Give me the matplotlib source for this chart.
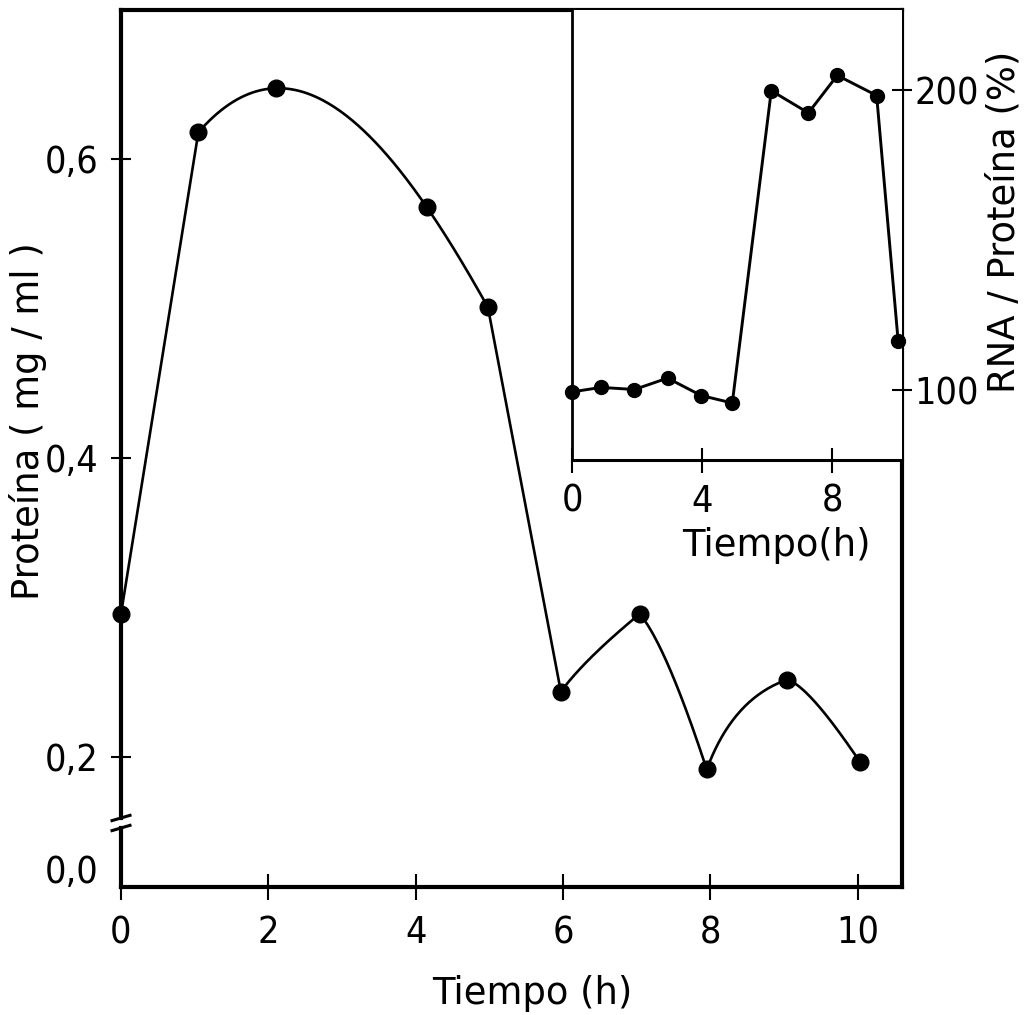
import numpy as np
import matplotlib
matplotlib.use("Agg")
import matplotlib.pyplot as plt
from matplotlib import font_manager as fm

# ---------------- data ----------------
time_h = [0.0, 1.05, 2.11, 4.15, 4.98, 5.97, 7.04, 7.95, 9.04, 10.03]
protein_mg_ml = [0.296, 0.618, 0.6475, 0.568, 0.501, 0.244, 0.296, 0.192, 0.252, 0.197]

inset_time_h = [0.0, 0.89, 1.92, 2.94, 3.97, 4.93, 6.13, 7.27, 8.16, 9.37, 10.03]
rna_protein_pct = [99.4, 100.9, 100.2, 104.0, 98.2, 95.7, 199.8, 192.4, 204.9, 198.2, 116.5]

main_xticks = [0, 2, 4, 6, 8, 10]
main_xticklabels = ["0", "2", "4", "6", "8", "10"]
main_yticks = [0.2, 0.4, 0.6]
main_yticklabels = ["0,2", "0,4", "0,6"]
zero_label = "0,0"
inset_xticks = [0, 4, 8]
inset_xticklabels = ["0", "4", "8"]
inset_yticks = [100, 200]
inset_yticklabels = ["100", "200"]

# ---------------- fonts ----------------
names = {f.name for f in fm.fontManager.ttflist}
if "Liberation Sans Narrow" in names:
    tick_font = dict(family="Liberation Sans Narrow")
else:
    tick_font = dict(family="DejaVu Sans", stretch="condensed")
label_font = dict(family="DejaVu Sans")
TICK_FS = 27
LABEL_FS = 26.6

# ---------------- figure ----------------
W, H = 1029, 1015
fig = plt.figure(figsize=(W / 100, H / 100), dpi=100)

def px_axes(left, right, top, bottom):
    return [left / W, (H - bottom) / H, (right - left) / W, (bottom - top) / H]

ax = fig.add_axes(px_axes(121, 902, 10, 887))
ax.set_xlim(0, 10.6)
ax.set_ylim(0.1134, 0.6998)

# curve through the main points
x = np.asarray(time_h)
y = np.asarray(protein_mg_ml)

def qbez(i, fx, fy, n=60):
    xa, ya, xb, yb = x[i], y[i], x[i + 1], y[i + 1]
    cx, cy = xa + fx * (xb - xa), ya + fy * (yb - ya)
    t = np.linspace(0, 1, n)
    bx = (1 - t) ** 2 * xa + 2 * (1 - t) * t * cx + t ** 2 * xb
    by = (1 - t) ** 2 * ya + 2 * (1 - t) * t * cy + t ** 2 * yb
    return bx, by

segs = []
segs.append((x[0:2], y[0:2]))                       # straight rise
coef = np.polyfit(x[1:5], y[1:5], 3)                # smooth hump 1..4
xs = np.linspace(x[1], x[4], 150)
segs.append((xs, np.polyval(coef, xs)))
segs.append((x[4:6], y[4:6]))                       # straight fall
segs.append(qbez(5, 0.295, 0.41))
segs.append(qbez(6, 0.39, 0.20))
segs.append(qbez(7, 0.325, 0.79))
segs.append(qbez(8, 0.29, 0.065))
cx_all = np.concatenate([s[0] for s in segs])
cy_all = np.concatenate([s[1] for s in segs])
ax.plot(cx_all, cy_all, color="black", lw=1.9, solid_capstyle="round", zorder=3)
ax.plot(x, y, "o", color="black", ms=12, zorder=6, clip_on=False)

# spines
for s in ["top", "right", "bottom"]:
    ax.spines[s].set_linewidth(3)
ax.spines["left"].set_visible(False)
br_hi, br_lo = 0.0787, 0.0673
ax.plot([0, 0], [1, br_hi], transform=ax.transAxes, color="black", lw=3,
        clip_on=False, solid_capstyle="projecting", zorder=5)
ax.plot([0, 0], [br_lo, 0], transform=ax.transAxes, color="black", lw=3,
        clip_on=False, solid_capstyle="projecting", zorder=5)
dx, dy = 0.0115, 0.0030
for yb in (br_hi, br_lo):
    ax.plot([-dx, dx], [yb - dy, yb + dy], transform=ax.transAxes, color="black",
            lw=2.2, clip_on=False, zorder=5)

ax.set_xticks(main_xticks)
ax.set_xticklabels(main_xticklabels, fontsize=TICK_FS, **tick_font)
zero_pos = 0.1254
ax.set_yticks([zero_pos] + main_yticks)
ax.set_yticklabels([zero_label] + main_yticklabels, fontsize=TICK_FS, **tick_font)
ax.tick_params(axis="x", direction="inout", length=19, width=1.5, pad=11)
ax.tick_params(axis="y", direction="inout", length=15, width=1.5, pad=9)
t0 = ax.yaxis.get_major_ticks()[0]
t0.tick1line.set_visible(False)
t0.tick2line.set_visible(False)

ax.set_xlabel("Tiempo (h)", fontsize=LABEL_FS, **label_font)
ax.xaxis.set_label_coords(0.526, -0.1003)
ax.set_ylabel("Proteína ( mg / ml )", fontsize=LABEL_FS, **label_font)
ax.yaxis.label.set_va("center")
ax.yaxis.set_label_coords(-0.119, 0.531)

# ---------------- inset ----------------
ins = fig.add_axes(px_axes(572, 902, 10, 460))
ins.set_xlim(0, 10.15)
ins.set_ylim(76.7, 226.7)
ins.plot(inset_time_h, rna_protein_pct, "-o", color="black", lw=2.1, ms=10,
         clip_on=False, zorder=4)
ins.spines["top"].set_visible(False)
ins.spines["right"].set_visible(False)
ins.spines["left"].set_linewidth(2)
ins.spines["bottom"].set_linewidth(2.2)
ins.yaxis.tick_right()
ins.yaxis.set_label_position("right")
ins.set_xticks(inset_xticks)
ins.set_xticklabels(inset_xticklabels, fontsize=TICK_FS, **tick_font)
ins.set_yticks(inset_yticks)
ins.set_yticklabels(inset_yticklabels, fontsize=TICK_FS, **tick_font)
ins.tick_params(axis="x", direction="inout", length=18, width=1.5, pad=8)
ins.tick_params(axis="y", direction="inout", length=14, width=1.5, pad=2)
ins.set_xlabel("Tiempo(h)", fontsize=LABEL_FS, **label_font)
ins.xaxis.set_label_coords(0.618, -0.149)
ins.set_ylabel("RNA / Proteína (%)", fontsize=LABEL_FS, **label_font)
ins.yaxis.label.set_rotation(90)
ins.yaxis.label.set_va("center")
ins.yaxis.label.set_ha("center")
ins.yaxis.set_label_coords(1.31, 0.529)

fig.savefig("out.png", dpi=100)
